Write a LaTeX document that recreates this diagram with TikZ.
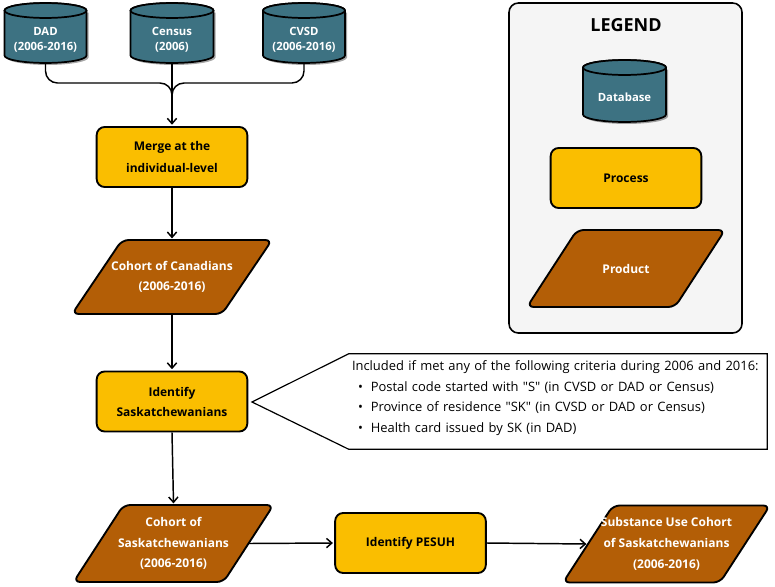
\documentclass[tikz,border=0pt]{standalone}
\usepackage{fontspec}
\setmainfont{Open Sans}
\newfontfamily\calloutfont{Open Sans}[Ligatures=TeXOff]
\usetikzlibrary{arrows.meta,calc}
\definecolor{dbteal}{HTML}{3D7282}
\definecolor{procyellow}{HTML}{FABE00}
\definecolor{prodbrown}{HTML}{B35E06}
\definecolor{legendbg}{HTML}{F5F5F5}
\pgfdeclarelayer{background}
\pgfsetlayers{background,main}

\newcommand\dbshape[6]{%
  \fill[black,opacity=0.35] ({#2-#5+2},{#3+9.5}) -- ({#2-#5+2},{#4-5.5})
     arc[start angle=180,end angle=360,x radius=#5*0.75pt,y radius=5.6pt] -- ({#2+#5+2},{#3+9.5}) -- cycle;
  \draw[dbline] ({#2-#5},{#3+7.5}) -- ({#2-#5},{#4-7.5})
     arc[start angle=180,end angle=360,x radius=#5*0.75pt,y radius=5.6pt] -- ({#2+#5},{#3+7.5})
     arc[start angle=0,end angle=180,x radius=#5*0.75pt,y radius=5.6pt] -- cycle;
  \draw[dbline] (#2,{#3+7.5}) ellipse[x radius=#5*0.75pt,y radius=5.6pt];
  \node[inner sep=0pt,minimum width=#5*1.5pt,minimum height={(#4-#3)*0.75pt}] (#1) at (#2,{(#3+#4)/2}) {};
  \node[dbtext] (#1-label) at (#2,{(#3+#4)/2+6.5}) {#6};
}
\newcommand\prodshape[6]{%
  \draw[prodline] ({#2-#4/2+25},{#3-#5/2}) -- ({#2+#4/2+25},{#3-#5/2}) -- ({#2+#4/2-25},{#3+#5/2}) -- ({#2-#4/2-25},{#3+#5/2}) -- cycle;
  \node[prodtext,minimum width=#4*0.75pt,minimum height=#5*0.75pt] (#1) at (#2,#3) {#6};
}

\begin{document}
\begin{tikzpicture}[x=0.75pt,y=-0.75pt,
  dbline/.style={draw=black,line width=1.3pt,fill=dbteal},
  dbtext/.style={text=white,font=\fontsize{8.5}{11.25}\selectfont\bfseries,align=center,inner sep=0pt},
  proc/.style={draw=black,line width=1.4pt,fill=procyellow,rounded corners=6pt,
     minimum width=113pt,minimum height=45pt,align=center,inner sep=0pt,
     font=\fontsize{9}{15}\selectfont\bfseries},
  prodline/.style={draw=black,line width=1.4pt,fill=prodbrown,rounded corners=5pt},
  prodtext/.style={text=white,align=center,inner sep=0pt,font=\fontsize{9}{15.5}\selectfont\bfseries},
  conn/.style={draw=black,line width=1.1pt},
  arr/.style={conn,-{Straight Barb[length=4pt,width=7pt,line width=1.1pt]}},
  calloutline/.style={draw=black,line width=0.9pt,fill=white,line join=miter},
]
\useasboundingbox (0,0) rectangle (775,586);

% legend
\node[draw=black,line width=1.2pt,fill=legendbg,rounded corners=7pt,
  minimum width=174.75pt,minimum height=247.5pt,inner sep=0pt] (legend) at (625.5,168) {};
\node[font=\fontsize{13.5}{16}\selectfont\bfseries] (legendtitle) at (626,25) {LEGEND};
\dbshape{legdb}{624.5}{60}{122}{41.5}{Database}
\node[proc] (legproc) at (626,178) {Process};
\prodshape{legprod}{626}{268.5}{148}{77}{Product}

% databases
\dbshape{dad}{45.5}{3}{63}{41}{DAD\\(2006-2016)}
\dbshape{census}{172}{3}{63}{41.5}{Census\\(2006)}
\dbshape{cvsd}{304}{3}{63}{41}{CVSD\\(2006-2016)}

% processes and products
\node[proc,font=\fontsize{9}{17}\selectfont\bfseries] (merge) at (172,157) {Merge at the\\individual-level};
\prodshape{cohortca}{172}{277}{150}{74}{Cohort of Canadians\\(2006-2016)}
\node[proc] (identsk) at (172,401.5) {Identify\\Saskatchewanians};
\prodshape{cohortsk}{173.5}{543.5}{150}{77}{Cohort of\\Saskatchewanians\\(2006-2016)}
\node[proc] (pesuh) at (410.5,543) {Identify PESUH};
\prodshape{subst}{666.5}{544}{157}{77}{Substance Use Cohort\\of Saskatchewanians\\(2006-2016)}

% callout
\coordinate (tip) at (252,402);
\node[inner xsep=2.25pt,inner ysep=0pt,minimum height=71.25pt,text width=309pt,align=left,
  font=\calloutfont\fontsize{9.7}{15.4}\selectfont] (crit) at (558,401.5)
  {Included if met any of the following criteria during 2006 and 2016:\\
   \hspace*{4.5pt}•\hspace*{6pt}Postal code started with "S" (in CVSD or DAD or Census)\\
   \hspace*{4.5pt}•\hspace*{6pt}Province of residence "SK" (in CVSD or DAD or Census)\\
   \hspace*{4.5pt}•\hspace*{6pt}Health card issued by SK (in DAD)\vspace*{5pt}};
\begin{pgfonlayer}{background}
\draw[calloutline] (tip) -- (crit.north west) -- (crit.north east) -- (crit.south east) -- (crit.south west) -- cycle;
\end{pgfonlayer}

% connectors
\coordinate (jn) at (172,83);
\coordinate (jd) at (172,108);
\draw[conn,rounded corners=9pt] (dad.south) |- (jn) -- (jd);
\draw[conn,rounded corners=9pt] (cvsd.south) |- (jn) -- (jd);
\draw[arr] (census.south) -- ([yshift=1pt]census.south |- merge.north);
\draw[arr] (merge.south) -- ([yshift=1pt]cohortca.north);
\draw[arr] (cohortca.south) -- ([yshift=1pt]identsk.north);
\draw[arr] (identsk.south) -- ([yshift=1pt]cohortsk.north);
\draw[arr] (cohortsk.east) -- ([xshift=-1pt]pesuh.west);
\draw[arr] (pesuh.east) -- ([xshift=-1pt]subst.west);
\end{tikzpicture}
\end{document}
